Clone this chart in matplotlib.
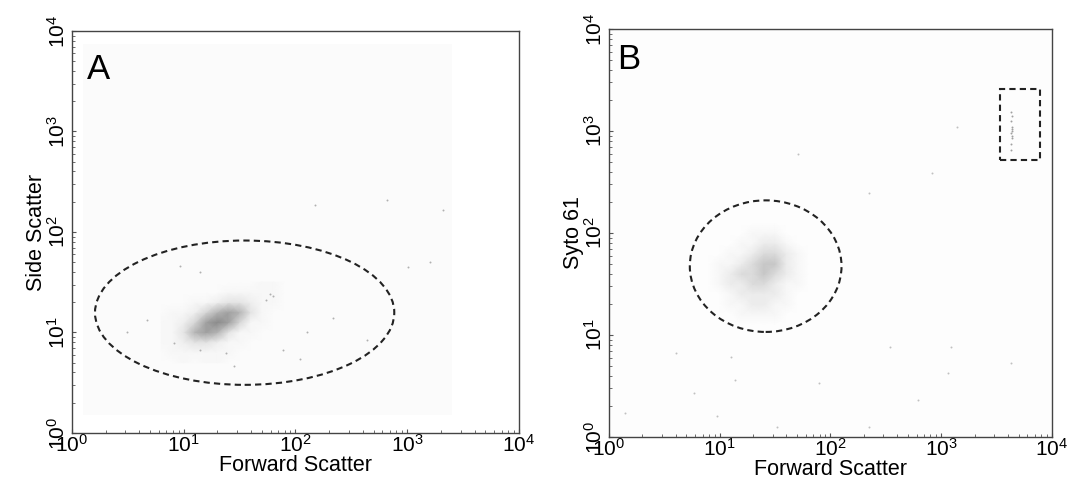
import numpy as np
import matplotlib
matplotlib.use("Agg")
import matplotlib.pyplot as plt
from matplotlib.colors import LinearSegmentedColormap, PowerNorm
from matplotlib.patches import Ellipse, Rectangle

plt.rcParams["font.family"] = ["Liberation Sans", "DejaVu Sans"]
plt.rcParams["mathtext.fontset"] = "custom"
plt.rcParams["mathtext.rm"] = "Liberation Sans"
plt.rcParams["mathtext.it"] = "Liberation Sans"

# ---- data (log10 grid centres and density) ----
# Panel A: main cluster density (rows = log10 side scatter, cols = log10 forward scatter)
a_logx = [0.8, 0.9, 1.0, 1.1, 1.2, 1.3, 1.4, 1.5, 1.6, 1.7, 1.8, 1.9, 2.0]
a_logy = [0.7, 0.8, 0.9, 1.0, 1.1, 1.2, 1.3, 1.4, 1.5]
a_density = [
    [0, 0, 1, 0, 1, 1, 0, 0, 0, 0, 0, 0, 0],
    [0, 1, 1, 1, 1, 1, 1, 0, 0, 0, 0, 0, 0],
    [1, 1, 2, 3, 3, 2, 1, 1, 0, 0, 0, 0, 0],
    [1, 1, 3, 6, 7, 6, 3, 1, 1, 0, 0, 0, 0],
    [1, 1, 2, 4, 7, 8, 7, 4, 1, 1, 0, 0, 0],
    [0, 1, 1, 2, 4, 6, 7, 6, 3, 1, 0, 0, 0],
    [0, 0, 0, 1, 1, 2, 3, 3, 2, 1, 1, 0, 0],
    [0, 0, 0, 0, 0, 0, 1, 1, 1, 1, 1, 0, 0],
    [0, 0, 0, 0, 0, 0, 0, 0, 0, 1, 1, 0, 0],
]
# Panel A: sparse events
a_fsc = [4.7, 3.1, 8.1, 14, 55, 63, 78, 126, 217, 436, 28, 9.3, 14, 24, 110,
         660, 2090, 1020, 1590, 149, 59]
a_ssc = [13.4, 10, 7.9, 6.7, 21, 23, 6.7, 10, 14, 8.5, 4.6, 46, 40, 6.3, 5.4,
         210, 167, 45, 50, 187, 24]

# Panel B: main cluster density (rows = log10 Syto 61, cols = log10 forward scatter)
b_logx = [0.9, 1.0, 1.1, 1.2, 1.3, 1.4, 1.5, 1.6, 1.7, 1.8, 1.9]
b_logy = [1.1, 1.2, 1.3, 1.4, 1.5, 1.6, 1.7, 1.8, 1.9, 2.0, 2.1]
b_density = [
    [0, 0, 0, 0, 0, 0, 0, 0, 0, 0, 0],
    [0, 0, 0, 1, 1, 1, 1, 0, 0, 0, 0],
    [0, 0, 1, 1, 2, 2, 1, 1, 0, 0, 0],
    [0, 0, 1, 2, 2, 2, 2, 1, 0, 0, 0],
    [0, 1, 2, 2, 3, 3, 2, 1, 1, 0, 0],
    [0, 1, 2, 3, 3, 4, 3, 2, 1, 0, 0],
    [0, 1, 1, 2, 3, 4, 4, 2, 1, 0, 0],
    [0, 0, 1, 1, 2, 3, 3, 2, 1, 0, 0],
    [0, 0, 0, 1, 1, 2, 2, 1, 0, 0, 0],
    [0, 0, 0, 0, 1, 1, 1, 0, 0, 0, 0],
    [0, 0, 0, 0, 0, 0, 0, 0, 0, 0, 0],
]
# Panel B: sparse events and bead population (upper right)
b_fsc = [4.0, 12.6, 347, 1230, 1150, 4270, 79, 5.9, 13.8, 617, 224, 33, 9.5, 1.4,
         1380, 830, 224, 51]
b_syto = [6.7, 6.1, 7.6, 7.6, 4.2, 5.3, 3.4, 2.7, 3.6, 2.3, 1.25, 1.25, 1.6, 1.7,
          1100, 390, 245, 600]
bead_fsc = [4250, 4300, 4350, 4300, 4400, 4350, 4300, 4350, 4250, 4320, 4380]
bead_syto = [650, 750, 850, 950, 1000, 1100, 1250, 1400, 1550, 900, 1050]

ticks = [1, 10, 100, 1000, 10000]
tick_labels = [r"$10^{0}$", r"$10^{1}$", r"$10^{2}$", r"$10^{3}$", r"$10^{4}$"]

bg_a = "#fbfbfb"
bg_b = "#fdfdfd"
cmap_a = LinearSegmentedColormap.from_list("dots_a", [bg_a, "#5a5a5a"])
cmap_b = LinearSegmentedColormap.from_list("dots_b", [bg_b, "#5a5a5a"])

fig = plt.figure(figsize=(10.71, 4.84), dpi=100)
ax_a = fig.add_axes([0.0672, 0.1054, 0.4174, 0.8306])
ax_b = fig.add_axes([0.5686, 0.0971, 0.4136, 0.8430])

for ax in (ax_a, ax_b):
    ax.set_xscale("log")
    ax.set_yscale("log")
    ax.set_xlim(1, 10000)
    ax.set_ylim(1, 10000)
    ax.set_xticks(ticks)
    ax.set_xticklabels(tick_labels)
    ax.set_yticks(ticks)
    ax.set_yticklabels(tick_labels, rotation=90, va="center")
    ax.tick_params(which="both", direction="in", color="#555555", labelsize=15)
    ax.tick_params(which="major", length=3, width=0.8)
    ax.tick_params(which="minor", length=2, width=0.6)
    ax.tick_params(axis="x", pad=1)
    ax.tick_params(axis="y", pad=2)
    for s in ax.spines.values():
        s.set_color("#444444")
        s.set_linewidth(1.0)
    ax.set_xlabel("Forward Scatter", fontsize=15.5, labelpad=-1)

# --- panel A ---
ax_a.add_patch(Rectangle((1.25, 1.5), 2500 - 1.25, 7400 - 1.5,
                         facecolor=bg_a, edgecolor="none", zorder=0))
ax_a.pcolormesh(10 ** np.array(a_logx), 10 ** np.array(a_logy), np.array(a_density),
                shading="gouraud", cmap=cmap_a, norm=PowerNorm(1.6, vmin=0, vmax=10),
                edgecolors="none", zorder=1)
ax_a.scatter(a_fsc, a_ssc, s=2, color="#b0b0b0", linewidths=0, zorder=2)
ax_a.add_patch(Ellipse((1.545 / 4, 1.197 / 4), 2 * 1.339 / 4, 2 * 0.718 / 4,
                       transform=ax_a.transAxes, fill=False, edgecolor="#222222",
                       linewidth=1.5, linestyle=(0, (3, 2)), zorder=3))
ax_a.set_ylabel("Side Scatter", fontsize=15.5, labelpad=0)
ax_a.text(0.033, 0.945, "A", transform=ax_a.transAxes, fontsize=25,
          va="top", ha="left")

# --- panel B ---
ax_b.set_facecolor(bg_b)
ax_b.pcolormesh(10 ** np.array(b_logx), 10 ** np.array(b_logy), np.array(b_density),
                shading="gouraud", cmap=cmap_b, norm=PowerNorm(1.6, vmin=0, vmax=8),
                edgecolors="none", zorder=1)
ax_b.scatter(b_fsc, b_syto, s=2, color="#c0c0c0", linewidths=0, zorder=2)
ax_b.scatter(bead_fsc, bead_syto, s=2, color="#a0a0a0", linewidths=0, zorder=2)
ax_b.add_patch(Ellipse((1.415 / 4, 1.675 / 4), 2 * 0.685 / 4, 2 * 0.645 / 4,
                       transform=ax_b.transAxes, fill=False, edgecolor="#222222",
                       linewidth=1.5, linestyle=(0, (3, 2)), zorder=3))
ax_b.add_patch(Rectangle((3390, 520), 7800 - 3390, 2570 - 520, fill=False,
                         edgecolor="#222222", linewidth=1.5,
                         linestyle=(0, (3, 2)), zorder=3))
ax_b.set_ylabel("Syto 61", fontsize=15.5, labelpad=0)
ax_b.text(0.018, 0.965, "B", transform=ax_b.transAxes, fontsize=25,
          va="top", ha="left")

fig.savefig("out.png", dpi=100)
